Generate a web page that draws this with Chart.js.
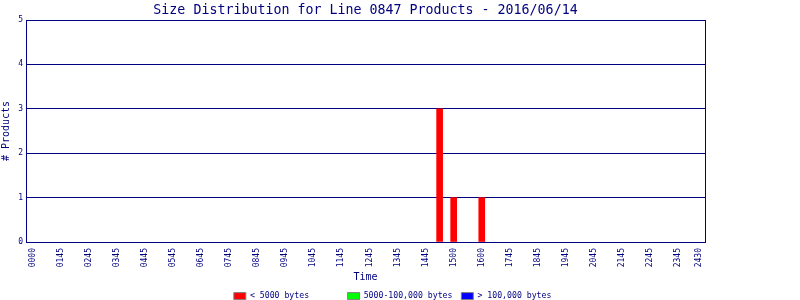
<!DOCTYPE html>
<html>
<head>
<meta charset="UTF-8">
<title>Size Distribution for Line 0847 Products</title>
<script src="https://cdn.jsdelivr.net/npm/chart.js"></script>
<style>
    body { margin: 0; background: #ffffff; }
    #wrap { width: 800px; height: 300px; }
</style>
</head>
<body>
<div id="wrap"><canvas id="grafico"></canvas></div>
<script>
    // tick labels along the time axis (one per slot)
    const timeLabels = ['0000', '0145', '0245', '0345', '0445', '0545', '0645', '0745', '0845', '0945',
        '1045', '1145', '1245', '1345', '1445', '1500', '1600', '1745', '1845', '1945',
        '2045', '2145', '2245', '2345', '2430'];
    const timeTickPos = [0, 1, 2, 3, 4, 5, 6, 7, 8, 9, 10, 11, 12, 13, 14, 15, 16, 17, 18, 19,
        20, 21, 22, 23, 23.73];

    // products per slot
    const smallX = [14.5, 15, 16];
    const smallY = [3, 1, 1];
    const mediumX = [];
    const mediumY = [];
    const largeX = [];
    const largeY = [];

    const seriesNames = ['< 5000 bytes', '5000-100,000 bytes', '> 100,000 bytes'];
    const yTicks = [0, 1, 2, 3, 4, 5];

    const navy = '#000080';
    const mono = '"DejaVu Sans Mono", monospace';

    function pts(xs, ys) {
        return xs.map((x, i) => ({ x: x, y: ys[i] }));
    }

    // legend entries sit in fixed-width slots, so pad the names
    const slotChars = [19, 19, 18];
    function padName(name, i) {
        return name + ' '.repeat(Math.max(0, slotChars[i] - name.length));
    }

    // plot frame (top and right edges too)
    const frame = {
        id: 'frame',
        afterDraw(chart) {
            const a = chart.chartArea;
            const c = chart.ctx;
            c.save();
            c.strokeStyle = navy;
            c.lineWidth = 1;
            c.strokeRect(Math.round(a.left) + 0.5, Math.round(a.top) + 0.5,
                Math.round(a.right - a.left), Math.round(a.bottom - a.top));
            c.restore();
        }
    };

    const ctx = document.getElementById('grafico').getContext('2d');
    new Chart(ctx, {
        type: 'bar',
        data: {
            datasets: [
                { label: seriesNames[0], data: pts(smallX, smallY), backgroundColor: '#ff0000' },
                { label: seriesNames[1], data: pts(mediumX, mediumY), backgroundColor: '#00ff00' },
                { label: seriesNames[2], data: pts(largeX, largeY), backgroundColor: '#0000ff' }
            ]
        },
        options: {
            responsive: true,
            maintainAspectRatio: false,
            animation: false,
            grouped: false,
            barThickness: 6,
            layout: { padding: 0 },
            plugins: {
                tooltip: { enabled: false },
                title: {
                    display: true,
                    fullSize: false,
                    text: 'Size Distribution for Line 0847 Products - 2016/06/14',
                    color: navy,
                    font: { family: mono, size: 13.3, weight: 'normal', lineHeight: 1.2 },
                    padding: { top: 3, bottom: 1.04 }
                },
                legend: {
                    position: 'bottom',
                    maxHeight: 12,
                    labels: {
                        color: navy,
                        font: { family: mono, size: 8.2 },
                        boxWidth: 12,
                        boxHeight: 7,
                        padding: 4,
                        generateLabels(chart) {
                            const items = Chart.defaults.plugins.legend.labels.generateLabels(chart);
                            items.forEach((it, i) => {
                                it.text = padName(it.text, i);
                                it.strokeStyle = '#808080';
                                it.lineWidth = 1;
                            });
                            return items;
                        }
                    }
                }
            },
            scales: {
                x: {
                    type: 'linear',
                    offset: false,
                    min: -0.23,
                    max: 23.95,
                    afterBuildTicks(axis) {
                        axis.ticks = timeTickPos.map(v => ({ value: v }));
                    },
                    afterFit(axis) { axis.height = 46; },
                    ticks: {
                        color: navy,
                        font: { family: mono, size: 8 },
                        minRotation: 90,
                        maxRotation: 90,
                        padding: 6,
                        autoSkip: false,
                        callback: (v, i) => timeLabels[i]
                    },
                    grid: { display: false, drawTicks: false },
                    border: { color: navy, width: 1 },
                    title: {
                        display: true,
                        text: 'Time',
                        color: navy,
                        font: { family: mono, size: 10 },
                        padding: { top: 0, bottom: 5 }
                    }
                },
                y: {
                    min: 0,
                    max: 5,
                    afterBuildTicks(axis) {
                        axis.ticks = yTicks.map(v => ({ value: v }));
                    },
                    afterFit(axis) { axis.width = 26; },
                    ticks: {
                        color: navy,
                        font: { family: mono, size: 8 },
                        padding: 3
                    },
                    grid: { color: navy, drawTicks: false },
                    border: { color: navy, width: 1 },
                    title: {
                        display: true,
                        text: '# Products',
                        color: navy,
                        font: { family: mono, size: 10 },
                        padding: 0
                    }
                },
                // empty right-hand strip, keeps the plot off the right edge
                gap: {
                    type: 'linear',
                    position: 'right',
                    min: 0,
                    max: 1,
                    afterFit(axis) { axis.width = 95; },
                    ticks: { display: false },
                    grid: { display: false, drawTicks: false },
                    border: { display: false }
                }
            }
        },
        plugins: [frame]
    });
</script>
</body>
</html>
